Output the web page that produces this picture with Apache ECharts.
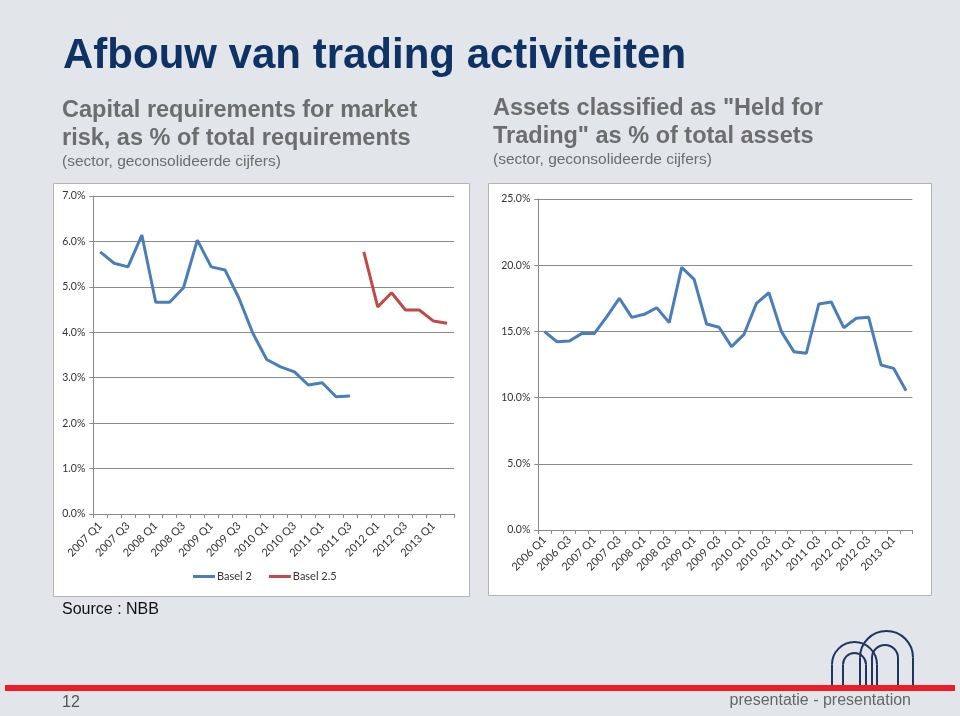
<!DOCTYPE html>
<html><head><meta charset="utf-8">
<script src="https://cdn.jsdelivr.net/npm/echarts@6/dist/echarts.min.js"></script>
<style>html,body{margin:0;padding:0;background:#e2e5ea}#c{width:960px;height:716px}</style>
</head><body><div id="c"></div><script>
// ---- data ----
const leftCategories = ['2007 Q1','2007 Q2','2007 Q3','2007 Q4','2008 Q1','2008 Q2','2008 Q3','2008 Q4',
  '2009 Q1','2009 Q2','2009 Q3','2009 Q4','2010 Q1','2010 Q2','2010 Q3','2010 Q4',
  '2011 Q1','2011 Q2','2011 Q3','2011 Q4','2012 Q1','2012 Q2','2012 Q3','2012 Q4','2013 Q1','2013 Q2'];
const basel2 = [5.77,5.52,5.44,6.14,4.66,4.66,4.98,6.03,5.44,5.37,4.75,3.98,3.40,3.24,3.13,2.84,2.89,2.58,2.60,
  null,null,null,null,null,null,null];
const basel25 = [null,null,null,null,null,null,null,null,null,null,null,null,null,null,null,null,null,null,null,
  5.77,4.56,4.87,4.49,4.49,4.25,4.20];
const leftTicks = [0,1,2,3,4,5,6,7];

const rightCategories = ['2006 Q1','2006 Q2','2006 Q3','2006 Q4','2007 Q1','2007 Q2','2007 Q3','2007 Q4',
  '2008 Q1','2008 Q2','2008 Q3','2008 Q4','2009 Q1','2009 Q2','2009 Q3','2009 Q4',
  '2010 Q1','2010 Q2','2010 Q3','2010 Q4','2011 Q1','2011 Q2','2011 Q3','2011 Q4',
  '2012 Q1','2012 Q2','2012 Q3','2012 Q4','2013 Q1','2013 Q2'];
const heldForTrading = [14.98,14.22,14.27,14.85,14.85,16.11,17.50,16.06,16.29,16.79,15.66,19.84,18.93,15.56,15.31,
  13.85,14.78,17.12,17.92,14.98,13.47,13.35,17.07,17.22,15.28,15.99,16.06,12.46,12.21,10.52];
const rightTicks = [0,5,10,15,20,25];

// ---- styles ----
const navy = '#0f3264';
const grayText = '#6d6d6d';
const axisFont = 'Lato';
const condensed = '"Liberation Sans Narrow","Liberation Sans",Arial,sans-serif';
const axisColor = '#8a8a8a';

function xAxisCfg(cats, gi, margin) {
  return {
    type: 'category', gridIndex: gi, data: cats, boundaryGap: true,
    axisLine: {lineStyle: {color: axisColor, width: 1}},
    axisTick: {show: true, interval: 0, length: 4, lineStyle: {color: axisColor}},
    axisLabel: {interval: 1, rotate: 45, fontSize: 11, fontFamily: axisFont, color: '#333', margin: margin},
    splitLine: {show: false}
  };
}
function yAxisCfg(ticks, gi) {
  return {
    type: 'value', gridIndex: gi, min: ticks[0], max: ticks[ticks.length - 1],
    interval: ticks[1] - ticks[0],
    axisLine: {show: true, lineStyle: {color: axisColor, width: 1}},
    axisTick: {show: true, length: 4, lineStyle: {color: axisColor}},
    axisLabel: {formatter: v => v.toFixed(1) + '%', fontSize: 10.5, fontFamily: axisFont, color: '#333', margin: 8},
    splitLine: {show: true, lineStyle: {color: axisColor, width: 1}}
  };
}

const logoStroke = {fill: null, stroke: '#1f3560', lineWidth: 2};
function arch(x1, x2, top, bottom) {
  const r = (x2 - x1) / 2, cy = top + r, cx = x1 + r;
  return [
    {type: 'arc', z: 5, shape: {cx: cx, cy: cy, r: r, startAngle: Math.PI, endAngle: 2 * Math.PI, clockwise: true}, style: logoStroke},
    {type: 'line', z: 5, shape: {x1: x1, y1: cy, x2: x1, y2: bottom}, style: logoStroke},
    {type: 'line', z: 5, shape: {x1: x2, y1: cy, x2: x2, y2: bottom}, style: logoStroke}
  ];
}

const chart = echarts.init(document.getElementById('c'), null, {renderer: 'canvas'});
chart.setOption({
  backgroundColor: '#e2e5ea',
  animation: false,
  graphic: [
    {type: 'rect', z: -10, shape: {x: 53.5, y: 183.5, width: 416, height: 413}, style: {fill: '#fff', stroke: '#b4b4b4', lineWidth: 1}},
    {type: 'rect', z: -10, shape: {x: 488.5, y: 183.5, width: 443, height: 412}, style: {fill: '#fff', stroke: '#b4b4b4', lineWidth: 1}},
    {type: 'text', style: {text: 'Afbouw van trading activiteiten', x: 63, y: 35, verticalAlign: 'top',
      fontSize: 42, fontWeight: 'bold', fontFamily: condensed, fill: navy}},
    {type: 'text', style: {text: 'Capital requirements for market\nrisk, as % of total requirements', x: 62, y: 96,
      verticalAlign: 'top', fontSize: 23.5, lineHeight: 28.5, fontWeight: 'bold', fontFamily: condensed, fill: grayText}},
    {type: 'text', style: {text: '(sector, geconsolideerde cijfers)', x: 62, y: 154, verticalAlign: 'top',
      fontSize: 15.5, fontFamily: condensed, fill: grayText}},
    {type: 'text', style: {text: 'Assets classified as "Held for\nTrading" as % of total assets', x: 493, y: 94,
      verticalAlign: 'top', fontSize: 23.5, lineHeight: 28.5, fontWeight: 'bold', fontFamily: condensed, fill: grayText}},
    {type: 'text', style: {text: '(sector, geconsolideerde cijfers)', x: 493, y: 152, verticalAlign: 'top',
      fontSize: 15.5, fontFamily: condensed, fill: grayText}},
    {type: 'text', style: {text: 'Source : NBB', x: 62, y: 602, verticalAlign: 'top', fontSize: 16, fontFamily: condensed, fill: '#111'}},
    ...arch(832, 877, 642, 686),
    ...arch(843, 866, 653, 686),
    ...arch(860, 913, 631, 686),
    ...arch(872, 898, 645, 686),
    {type: 'rect', z: 6, shape: {x: 5, y: 685, width: 950, height: 6}, style: {fill: '#ee1c25'}},
    {type: 'text', style: {text: '12', x: 62, y: 695, verticalAlign: 'top', fontSize: 16, fontFamily: condensed, fill: '#555'}},
    {type: 'text', style: {text: 'presentatie - presentation', x: 911, y: 693, verticalAlign: 'top', align: 'right',
      fontSize: 16, fontFamily: condensed, fill: '#666'}}
  ],
  legend: {
    data: ['Basel 2', 'Basel 2.5'], left: 193, top: 571, padding: 0, icon: 'rect', itemWidth: 22, itemHeight: 3, itemGap: 17,
    textStyle: {fontSize: 11, fontFamily: axisFont, color: '#333', padding: [0, 0, 0, -3]}
  },
  grid: [
    {left: 93.3, top: 196, width: 360.7, height: 318},
    {left: 538.3, top: 199, width: 374, height: 331}
  ],
  xAxis: [xAxisCfg(leftCategories, 0, 10), xAxisCfg(rightCategories, 1, 8)],
  yAxis: [yAxisCfg(leftTicks, 0), yAxisCfg(rightTicks, 1)],
  series: [
    {name: 'Basel 2', type: 'line', xAxisIndex: 0, yAxisIndex: 0, data: basel2, symbol: 'none', connectNulls: false,
      lineStyle: {color: '#4a7ebb', width: 3}, itemStyle: {color: '#4a7ebb'}},
    {name: 'Basel 2.5', type: 'line', xAxisIndex: 0, yAxisIndex: 0, data: basel25, symbol: 'none', connectNulls: false,
      lineStyle: {color: '#be4b48', width: 3}, itemStyle: {color: '#be4b48'}},
    {name: 'Held for Trading', type: 'line', xAxisIndex: 1, yAxisIndex: 1, data: heldForTrading, symbol: 'none',
      lineStyle: {color: '#4a7ebb', width: 3}, itemStyle: {color: '#4a7ebb'}}
  ]
});
</script></body></html>
